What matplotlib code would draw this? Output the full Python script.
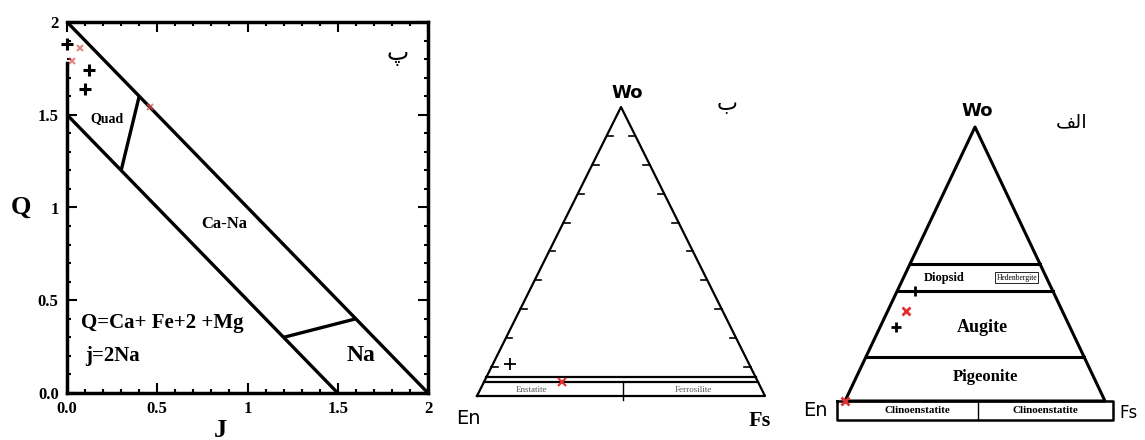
import numpy as np
import matplotlib.pyplot as plt
from matplotlib.ticker import MultipleLocator

# ---- panel 1 (Q-J diagram) data ----
qj_lines = [
    ([0.0, 2.0], [2.0, 0.0]),   # outer boundary
    ([0.0, 1.5], [1.5, 0.0]),   # inner boundary
    ([0.3, 0.4], [1.2, 1.6]),   # Quad / Ca-Na
    ([1.2, 1.6], [0.3, 0.4]),   # Ca-Na / Na
]
plus_J = [0.0, 0.12, 0.10]
plus_Q = [1.88, 1.74, 1.64]
red_J = [0.07, 0.03, 0.46]
red_Q = [1.86, 1.79, 1.54]
tick_vals = [0, 0.5, 1, 1.5, 2]
x_ticklabels = ['0.0', '0.5', '1', '1.5', '2']
y_ticklabels = ['0.0', '0.5', '1', '1.5', '2']

# ---- panel 2 (Wo-En-Fs, Mg-Fe pyroxenes) samples: Wo, En, Fs ----
b_plus = [(11, 83, 6)]
b_red = [(5, 68, 27)]
b_rows = [6.5, 5.0]

# ---- panel 3 (Wo-En-Fs, quad) ----
a_plus = [(40, 53, 7), (27, 67, 6)]
a_red = [(33, 60, 7), (0, 100, 0)]
a_rows = [50, 40, 16]

serif = 'Liberation Serif'


def tern(pts):
    pts = np.array(pts, dtype=float) / 100.0
    wo, en, fs = pts[:, 0], pts[:, 1], pts[:, 2]
    return fs + wo / 2, wo


def row(ax, wo, **kw):
    w = wo / 100.0
    ax.plot([w / 2, 1 - w / 2], [w, w], color='black', **kw)


fig = plt.figure(figsize=(11.45, 4.4), dpi=100)
W, H = 1145, 440

# ================= panel 1 =================
ax1 = fig.add_axes([67 / W, (H - 393) / H, 361 / W, 371 / H])
for xs, ys in qj_lines:
    ax1.plot(xs, ys, color='black', lw=2.4, solid_capstyle='butt')
ax1.plot(plus_J, plus_Q, '+', color='black', ms=8, mew=2.2, clip_on=False)
ax1.plot(red_J, red_Q, 'x', color='#e05050', ms=5, mew=1.5, alpha=0.7,
         clip_on=False)
ax1.set_xlim(0, 2)
ax1.set_ylim(0, 2)
ax1.set_xticks(tick_vals)
ax1.set_yticks(tick_vals)
ax1.set_xticklabels(x_ticklabels, family=serif, weight='bold', fontsize=12)
ax1.set_yticklabels(y_ticklabels, family=serif, weight='bold', fontsize=12)
ax1.xaxis.set_minor_locator(MultipleLocator(0.1))
ax1.yaxis.set_minor_locator(MultipleLocator(0.1))
ax1.tick_params(which='both', direction='in', top=True, right=True, width=1.5)
ax1.tick_params(which='major', length=7, pad=6)
ax1.tick_params(which='minor', length=3)
for s in ax1.spines.values():
    s.set_linewidth(2.5)
ax1.spines['left'].set_bounds(0, 1.78)
# axis titles placed like the original (J sits left of the "1" label)
ax1.text(0.85, -0.2, 'J', family=serif, weight='bold', fontsize=19,
         ha='center', va='center', clip_on=False)
ax1.set_ylabel('Q', family=serif, weight='bold', fontsize=19, rotation=0,
               labelpad=12, va='center')
ax1.text(0.22, 1.48, 'Quad', family=serif, weight='bold', fontsize=10,
         ha='center', va='center')
ax1.text(0.87, 0.91, 'Ca-Na', family=serif, weight='bold', fontsize=12,
         ha='center', va='center')
ax1.text(1.63, 0.2, 'Na', family=serif, weight='bold', fontsize=17,
         ha='center', va='center')
ax1.text(0.08, 0.38, 'Q=Ca+ Fe+2 +Mg', family=serif, weight='bold',
         fontsize=15, ha='left', va='center')
ax1.text(0.1, 0.2, 'j=2Na', family=serif, weight='bold', fontsize=15,
         ha='left', va='center')
ax1.text(1.83, 1.83, '\u067e', family='DejaVu Sans', fontsize=17,
         ha='center', va='center')

# ================= panel 2 =================
ax2 = fig.add_axes([477 / W, (H - 396) / H, 288 / W, 289 / H])
ax2.set_xlim(0, 1)
ax2.set_ylim(0, 1)
ax2.axis('off')
ax2.plot([0, 0.5, 1, 0], [0, 1, 0, 0], color='black', lw=1.6, clip_on=False)
for wo in b_rows:
    row(ax2, wo, lw=1.6)
ax2.plot([0.507, 0.507], [0.05, -0.015], color='black', lw=1, clip_on=False)
for k in range(1, 10):
    w = k / 10.0
    ax2.plot([w / 2, w / 2 + 0.022], [w, w], color='black', lw=1.2)
    ax2.plot([1 - w / 2, 1 - w / 2 - 0.022], [w, w], color='black', lw=1.2)
bx, by = tern(b_plus)
ax2.plot(bx, by, '+', color='black', ms=8, mew=1.3, clip_on=False)
bx, by = tern(b_red)
ax2.plot(bx, by, 'x', color='#e03030', ms=6, mew=1.5, clip_on=False)
ax2.text(0.19, 0.022, 'Enstatite', family=serif, fontsize=6.5, color='#555555',
         ha='center', va='center')
ax2.text(0.75, 0.022, 'Ferrosilite', family=serif, fontsize=6.5, color='#555555',
         ha='center', va='center')
ax2.text(0.52, 1.05, 'Wo', family='DejaVu Sans', weight='bold', fontsize=13,
         ha='center', va='center')
ax2.text(0.87, 1.01, '\u0628', family='DejaVu Sans', fontsize=16,
         ha='center', va='center')
ax2.text(-0.03, -0.078, 'En', family='DejaVu Sans', fontsize=14,
         ha='center', va='center')
ax2.text(0.98, -0.085, 'Fs', family=serif, weight='bold', fontsize=16,
         ha='center', va='center')

# ================= panel 3 =================
ax3 = fig.add_axes([845 / W, (H - 401) / H, 260 / W, 274 / H])
ax3.set_xlim(0, 1)
ax3.set_ylim(0, 1)
ax3.axis('off')
ax3.plot([0, 0.5, 1, 0], [0, 1, 0, 0], color='black', lw=2.2, clip_on=False)
for wo in a_rows:
    row(ax3, wo, lw=2.2)
ax3.plot([-0.03, 1.03, 1.03, -0.03, -0.03], [0, 0, -0.068, -0.068, 0],
         color='black', lw=1.8, clip_on=False)
ax3.plot([0.51, 0.51], [0, -0.068], color='black', lw=1, clip_on=False)
ax3.text(0.38, 0.45, 'Diopsid', family=serif, weight='bold', fontsize=9,
         ha='center', va='center')
ax3.text(0.66, 0.45, 'Hedenbergite', family=serif, fontsize=5.5,
         ha='center', va='center',
         bbox=dict(boxstyle='square,pad=0.2', fc='white', ec='black', lw=0.6))
ax3.text(0.53, 0.27, 'Augite', family=serif, weight='bold', fontsize=13,
         ha='center', va='center')
ax3.text(0.54, 0.087, 'Pigeonite', family=serif, weight='bold', fontsize=12,
         ha='center', va='center')
ax3.text(0.28, -0.036, 'Clinoenstatite', family=serif, weight='bold',
         fontsize=8, ha='center', va='center')
ax3.text(0.77, -0.036, 'Clinoenstatite', family=serif, weight='bold',
         fontsize=8, ha='center', va='center')
ax3.text(0.51, 1.06, 'Wo', family='DejaVu Sans', weight='bold', fontsize=13,
         ha='center', va='center')
# "الف" written in visual order with presentation forms (no shaping in mpl)
ax3.text(0.87, 1.02, '\ufed2\ufedf\u0627', family='DejaVu Sans', fontsize=14,
         ha='center', va='center')
ax3.text(-0.115, -0.036, 'En', family='DejaVu Sans', fontsize=14,
         ha='center', va='center')
ax3.text(1.09, -0.042, 'Fs', family='DejaVu Sans', fontsize=12,
         ha='center', va='center')
ax_, ay_ = tern(a_plus)
ax3.plot(ax_, ay_, '+', color='black', ms=7, mew=2, clip_on=False)
ax_, ay_ = tern(a_red)
ax3.plot(ax_, ay_, 'x', color='#e03030', ms=6, mew=2, clip_on=False)

fig.savefig('out.png', dpi=100)
